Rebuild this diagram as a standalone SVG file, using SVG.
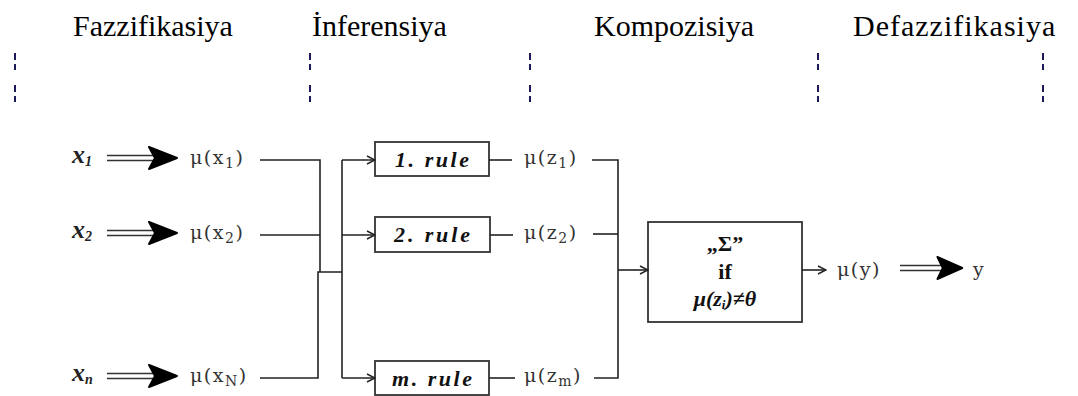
<svg xmlns="http://www.w3.org/2000/svg" width="1078" height="396" viewBox="0 0 1078 396">
<defs>
<style>
.hd{font-family:"Liberation Serif",serif;font-size:30px;fill:#000}
.sep{stroke:#1a1a5a;stroke-width:2;stroke-dasharray:7,4,6,15}
.ln{stroke:#222;stroke-width:1.6;fill:none}
.box{fill:#fff;stroke:#333;stroke-width:1.8}
.mu{font-family:"DejaVu Serif",serif;font-size:19px;fill:#333;letter-spacing:1.5px}
.sub{font-size:14px}
.xin{font-family:"Liberation Serif",serif;font-style:italic;font-weight:bold;font-size:26px;fill:#222}
.rule{font-family:"Liberation Serif",serif;font-style:italic;font-weight:bold;font-size:22px;fill:#111}
.cb{font-family:"Liberation Serif",serif;font-weight:bold;font-size:22px;fill:#111}
.dbl{stroke:#333;stroke-width:1.5;fill:none}
.head{fill:#000;stroke:#000;stroke-width:2;stroke-linejoin:round}
</style>
<marker id="oa" viewBox="0 0 10 10" refX="9" refY="5" markerWidth="10" markerHeight="10" markerUnits="userSpaceOnUse" orient="auto">
<path d="M1,1 L9,5 L1,9" fill="none" stroke="#222" stroke-width="1.4"/>
</marker>
<g id="bigarrow">
<line x1="0" y1="-2.5" x2="46" y2="-2.5" class="dbl"/>
<line x1="0" y1="2.5" x2="46" y2="2.5" class="dbl"/>
<path d="M42,-11 L70,0 L42,11 L48,0 Z" class="head"/>
</g>
</defs>

<g id="headers">
<text class="hd" x="73" y="36">Fazzifikasiya</text>
<text class="hd" x="312" y="36">İnferensiya</text>
<text class="hd" x="594" y="36">Kompozisiya</text>
<text class="hd" x="853" y="36" letter-spacing="1">Defazzifikasiya</text>
</g>

<g id="separators">
<line class="sep" x1="15" y1="53" x2="15" y2="103"/>
<line class="sep" x1="310" y1="53" x2="310" y2="103"/>
<line class="sep" x1="530" y1="53" x2="530" y2="103"/>
<line class="sep" x1="818" y1="53" x2="818" y2="103"/>
<line class="sep" x1="1043" y1="53" x2="1043" y2="103"/>
</g>

<g id="inputs">
<g id="in1">
<text class="xin" x="72" y="163">x<tspan class="sub" dy="3">1</tspan></text>
<use href="#bigarrow" x="107" y="158"/>
<text class="mu" x="190" y="164">μ(x<tspan class="sub" dy="4">1</tspan><tspan dy="-4">)</tspan></text>
</g>
<g id="in2">
<text class="xin" x="72" y="238">x<tspan class="sub" dy="3">2</tspan></text>
<use href="#bigarrow" x="107" y="233"/>
<text class="mu" x="190" y="239">μ(x<tspan class="sub" dy="4">2</tspan><tspan dy="-4">)</tspan></text>
</g>
<g id="in3">
<text class="xin" x="72" y="381">x<tspan class="sub" dy="3">n</tspan></text>
<use href="#bigarrow" x="107" y="376"/>
<text class="mu" x="190" y="382">μ(x<tspan class="sub" dy="4">N</tspan><tspan dy="-4">)</tspan></text>
</g>
</g>

<g id="rules">
<g id="rule1">
<rect class="box" x="375" y="142" width="114" height="34"/>
<text class="rule" x="432" y="167" text-anchor="middle" textLength="74" lengthAdjust="spacing">1. rule</text>
</g>
<g id="rule2">
<rect class="box" x="375" y="217" width="115" height="35"/>
<text class="rule" x="432" y="242" text-anchor="middle" textLength="76" lengthAdjust="spacing">2. rule</text>
</g>
<g id="rulem">
<rect class="box" x="375" y="361" width="114" height="34"/>
<text class="rule" x="432" y="386" text-anchor="middle" textLength="80" lengthAdjust="spacing">m. rule</text>
</g>
</g>

<g id="outputs">
<text class="mu" x="524" y="164">μ(z<tspan class="sub" dy="4">1</tspan><tspan dy="-4">)</tspan></text>
<text class="mu" x="524" y="239">μ(z<tspan class="sub" dy="4">2</tspan><tspan dy="-4">)</tspan></text>
<text class="mu" x="524" y="382">μ(z<tspan class="sub" dy="4">m</tspan><tspan dy="-4">)</tspan></text>
</g>

<g id="composition">
<rect class="box" x="648" y="222" width="154" height="100"/>
<text class="cb" x="725" y="251" text-anchor="middle">„Σ”</text>
<text class="cb" x="725" y="279" text-anchor="middle" font-size="24">if</text>
<text class="cb" x="725" y="306" text-anchor="middle" font-style="italic">μ(z<tspan font-size="13" dy="3">i</tspan><tspan dy="-3">)≠θ</tspan></text>
</g>

<g id="result">
<text class="mu" x="837" y="276">μ(y)</text>
<use href="#bigarrow" transform="translate(900,268) scale(0.89,1)"/>
<text class="mu" x="973" y="276">y</text>
</g>

<g id="connectors">
<path class="ln" d="M260,160 H320 V272"/>
<path class="ln" d="M260,235 H320"/>
<path class="ln" d="M260,378 H318 V272 H342"/>
<path class="ln" d="M342,160 V378"/>
<path class="ln" d="M342,160 H375" marker-end="url(#oa)"/>
<path class="ln" d="M342,235 H375" marker-end="url(#oa)"/>
<path class="ln" d="M342,378 H375" marker-end="url(#oa)"/>
<path class="ln" d="M489,160 H512"/>
<path class="ln" d="M490,235 H513"/>
<path class="ln" d="M489,378 H515"/>
<path class="ln" d="M592,160 H618 V378 H594"/>
<path class="ln" d="M593,234 H618"/>
<path class="ln" d="M618,270 H648" marker-end="url(#oa)"/>
<path class="ln" d="M802,270 H826" marker-end="url(#oa)"/>
</g>
</svg>
